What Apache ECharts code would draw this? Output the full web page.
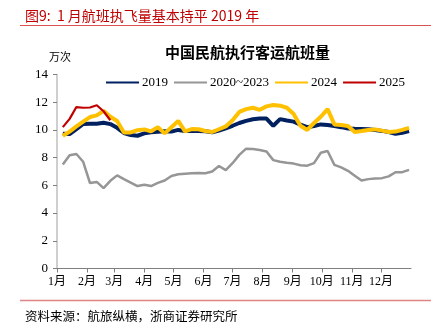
<!DOCTYPE html>
<html>
<head>
<meta charset="utf-8">
<script src="https://cdn.jsdelivr.net/npm/echarts@6/dist/echarts.min.js"></script>
<style>
  html, body { margin: 0; padding: 0; background: #fff; }
  #chart { width: 436px; height: 335px; }
</style>
</head>
<body>
<div id="chart"></div>
<script>
// Weekly scheduled passenger flights of Chinese civil aviation (10k flights)
const monthStarts = [0, 31, 59, 90, 120, 151, 181, 212, 243, 273, 304, 334];
const monthLabels = ['1月', '2月', '3月', '4月', '5月', '6月', '7月', '8月', '9月', '10月', '11月', '12月'];
const yTicks = [0, 2, 4, 6, 8, 10, 12, 14];
const seriesNames = ['2019', '2020~2023', '2024', '2025'];

const v2019 = [9.72, 9.70, 10.05, 10.43, 10.45, 10.45, 10.52, 10.42, 10.15, 9.78,
  9.63, 9.58, 9.75, 9.83, 9.87, 9.90, 9.88, 10.00, 9.93, 9.92,
  9.92, 9.90, 9.83, 9.95, 10.12, 10.30, 10.50, 10.65, 10.77, 10.82,
  10.82, 10.30, 10.78, 10.68, 10.60, 10.38, 10.20, 10.28, 10.40, 10.35,
  10.28, 10.20, 10.10, 10.08, 10.07, 10.05, 10.00, 9.93, 9.85, 9.72,
  9.80, 9.92];
const v2020to2023 = [7.50, 8.17, 8.26, 7.70, 6.17, 6.25, 5.80, 6.33, 6.72, 6.45,
  6.20, 5.95, 6.05, 5.95, 6.18, 6.35, 6.68, 6.80, 6.84, 6.87,
  6.90, 6.88, 7.00, 7.40, 7.10, 7.60, 8.20, 8.65, 8.62, 8.55,
  8.45, 7.82, 7.70, 7.63, 7.57, 7.45, 7.42, 7.60, 8.35, 8.48,
  7.48, 7.30, 7.05, 6.70, 6.35, 6.45, 6.50, 6.52, 6.65, 6.95,
  6.95, 7.12];
const v2024 = [9.58, 9.88, 10.25, 10.60, 10.93, 11.05, 11.38, 10.95, 10.65, 9.82,
  9.82, 9.98, 10.04, 9.90, 10.20, 9.75, 10.20, 10.65, 9.90, 10.06,
  10.05, 9.92, 9.85, 10.05, 10.25, 10.70, 11.30, 11.50, 11.60, 11.45,
  11.70, 11.80, 11.75, 11.60, 11.15, 10.30, 10.00, 10.50, 10.95, 11.50,
  10.40, 10.35, 10.28, 9.85, 9.92, 10.00, 10.04, 9.95, 9.85, 9.88,
  10.00, 10.15];
const v2025 = [10.20, 10.80, 11.65, 11.60, 11.62, 11.78, 11.35, 10.70];

// each weekly value sits at its day-of-year on the x axis
function weekly(values) {
  return values.map((v, i) => [6 + 7 * i, v]);
}

const serif = '"Liberation Serif", "Times New Roman", "Noto Sans CJK SC", serif';
const cjk = '"Noto Sans CJK SC", "Liberation Serif", serif';

const chart = echarts.init(document.getElementById('chart'), null, { renderer: 'canvas' });
chart.setOption({
  backgroundColor: '#fff',
  animation: false,
  title: [
    {
      text: '图9:  1 月航班执飞量基本持平 2019 年',
      left: 20, top: 4,
      textStyle: { fontFamily: cjk, fontSize: 14, fontWeight: 'normal', color: '#c00000' }
    },
    {
      text: '中国民航执行客运航班量',
      left: 160, top: 40,
      textStyle: { fontFamily: cjk, fontSize: 15, fontWeight: 'bold', color: '#000' }
    },
    {
      text: '万次',
      left: 44, top: 46,
      textStyle: { fontFamily: cjk, fontSize: 11, fontWeight: 'normal', color: '#000' }
    },
    {
      text: '资料来源：航旅纵横，浙商证券研究所',
      left: 20, top: 305,
      textStyle: { fontFamily: cjk, fontSize: 12.5, fontWeight: 'normal', color: '#000' }
    }
  ],
  graphic: [
    { type: 'line', shape: { x1: 20, y1: 25.5, x2: 431, y2: 25.5 }, style: { stroke: '#d9534f', lineWidth: 1 } },
    { type: 'line', shape: { x1: 20, y1: 300.5, x2: 431, y2: 300.5 }, style: { stroke: '#e08585', lineWidth: 1.5 } }
  ],
  legend: {
    left: 100, top: 71,
    itemWidth: 33, itemHeight: 10, itemGap: 5,
    itemStyle: { opacity: 0 },
    textStyle: { fontFamily: serif, fontSize: 13, color: '#000', padding: [0, 0, 0, -2] },
    data: seriesNames
  },
  grid: { left: 57, right: 25, top: 74.5, bottom: 66.5, containLabel: false },
  xAxis: {
    type: 'value', min: 0, max: 365,
    axisLine: { show: true, lineStyle: { color: '#7f7f7f', width: 1 } },
    axisTick: { show: true, customValues: monthStarts, length: 4, lineStyle: { color: '#7f7f7f' } },
    axisLabel: {
      customValues: monthStarts,
      formatter: v => monthLabels[monthStarts.indexOf(Math.round(v))] || '',
      fontFamily: serif, fontSize: 12, color: '#000', margin: 7
    },
    splitLine: { show: false }
  },
  yAxis: {
    type: 'value', min: yTicks[0], max: yTicks[yTicks.length - 1], interval: 2,
    axisLine: { show: true, lineStyle: { color: '#bfbfbf', width: 1.5 } },
    axisTick: { show: true, length: 4, lineStyle: { color: '#7f7f7f' } },
    axisLabel: { fontFamily: serif, fontSize: 13, color: '#000', margin: 9 },
    splitLine: { show: false }
  },
  series: [
    { name: seriesNames[0], type: 'line', data: weekly(v2019), symbol: 'none', z: 3,
      lineStyle: { color: '#002060', width: 4 }, itemStyle: { color: '#002060' } },
    { name: seriesNames[1], type: 'line', data: weekly(v2020to2023), symbol: 'none', z: 2,
      lineStyle: { color: '#969696', width: 2.5 }, itemStyle: { color: '#969696' } },
    { name: seriesNames[2], type: 'line', data: weekly(v2024), symbol: 'none', z: 4,
      lineStyle: { color: '#ffc000', width: 4 }, itemStyle: { color: '#ffc000' } },
    { name: seriesNames[3], type: 'line', data: weekly(v2025), symbol: 'none', z: 5,
      lineStyle: { color: '#c00000', width: 2.2 }, itemStyle: { color: '#c00000' } }
  ]
});
</script>
</body>
</html>
